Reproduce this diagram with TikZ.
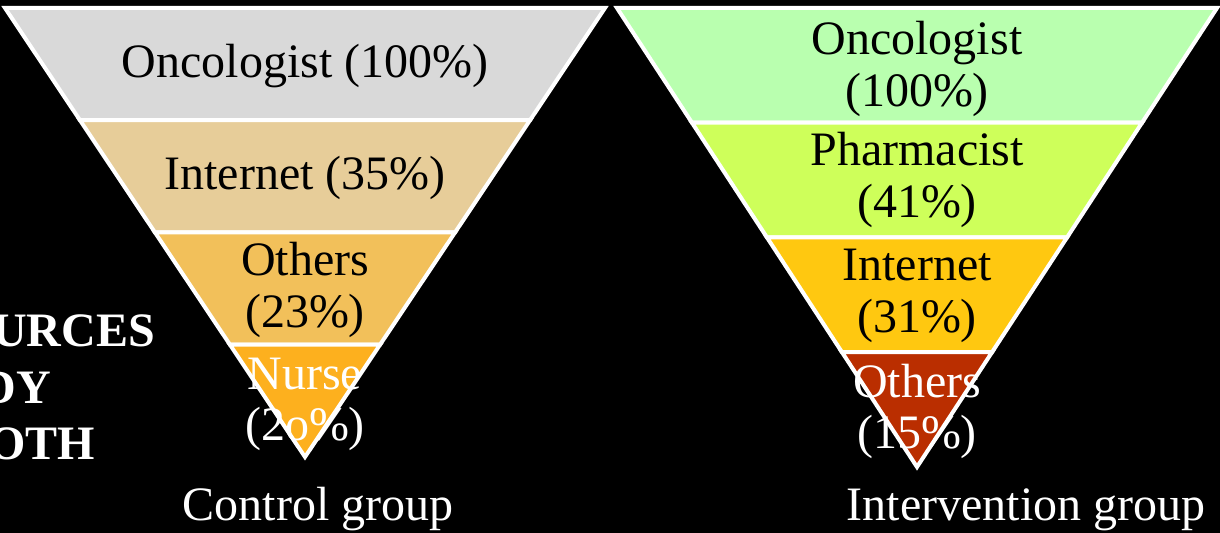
\documentclass[tikz,border=0pt]{standalone}
\usepackage{fontspec}
\setmainfont{Liberation Serif}
\definecolor{cA}{RGB}{217,217,217}
\definecolor{cB}{RGB}{231,205,153}
\definecolor{cC}{RGB}{242,192,90}
\definecolor{cD}{RGB}{253,176,30}
\definecolor{gA}{RGB}{185,255,175}
\definecolor{gB}{RGB}{206,255,90}
\definecolor{gC}{RGB}{255,200,16}
\definecolor{gD}{RGB}{186,46,0}
\begin{document}
\begin{tikzpicture}[x=1bp,y=-1bp,
  band/.style={draw=white,line width=4bp,line join=miter},
  lbl/.style={anchor=base,inner sep=0pt,font=\fontsize{48bp}{55bp}\selectfont},
  ttl/.style={anchor=base east,inner sep=0pt,text=white,font=\fontsize{48bp}{55bp}\selectfont\bfseries}]
\fill[black] (0,0) rectangle (1220,533);
\useasboundingbox (0,0) rectangle (1220,533);
% left funnel
\filldraw[band,fill=cA] (5,8) -- (605,8) -- (530,120.25) -- (80,120.25) -- cycle;
\filldraw[band,fill=cB] (80,120.25) -- (530,120.25) -- (455,232.5) -- (155,232.5) -- cycle;
\filldraw[band,fill=cC] (155,232.5) -- (455,232.5) -- (380,344.75) -- (230,344.75) -- cycle;
\filldraw[band,fill=cD] (230,344.75) -- (380,344.75) -- (305,457) -- cycle;
% right funnel
\filldraw[band,fill=gA] (617,8) -- (1217,8) -- (1142,122.75) -- (692,122.75) -- cycle;
\filldraw[band,fill=gB] (692,122.75) -- (1142,122.75) -- (1067,237.5) -- (767,237.5) -- cycle;
\filldraw[band,fill=gC] (767,237.5) -- (1067,237.5) -- (992,352.25) -- (842,352.25) -- cycle;
\filldraw[band,fill=gD] (842,352.25) -- (992,352.25) -- (917,467) -- cycle;
% left labels
\node[lbl] (l1) at (305,78) {Oncologist (100\%)};
\node[lbl] (l2) at (305,190) {Internet (35\%)};
\node[lbl] (l3a) at (305,276) {Others};
\node[lbl] (l3b) at (305,328) {(23\%)};
\node[lbl,text=white] (l4a) at (305,389) {Nurse};
\node[lbl,text=white] (l4b) at (305,440) {(2o\%)};
% right labels
\node[lbl] (r1a) at (917,55) {Oncologist};
\node[lbl] (r1b) at (917,107) {(100\%)};
\node[lbl] (r2a) at (917,166) {Pharmacist};
\node[lbl] (r2b) at (917,218) {(41\%)};
\node[lbl] (r3a) at (917,281) {Internet};
\node[lbl] (r3b) at (917,333) {(31\%)};
\node[lbl,text=white] (r4a) at (917,397) {Others};
\node[lbl,text=white] (r4b) at (917,448) {(15\%)};
% group captions
\node[lbl,text=white] (cg) at (318,520) {Control group};
\node[lbl,text=white] (ig) at (1026,520) {Intervention group};
% cut-off title
\node[ttl] (t1) at (155,347) {URCES};
\node[ttl] (t2) at (51,403) {DY};
\node[ttl] (t3) at (95,459) {OTH};
\end{tikzpicture}
\end{document}
